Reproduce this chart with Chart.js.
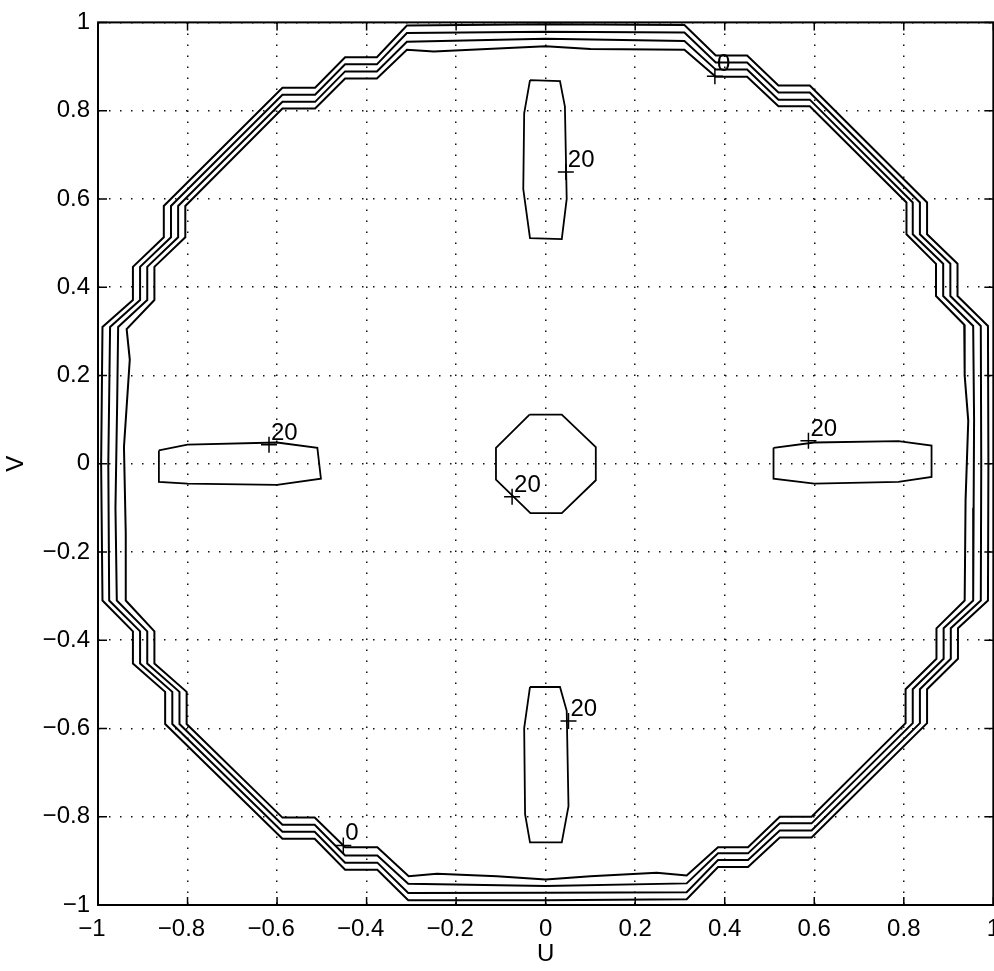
<!DOCTYPE html>
<html lang="en">
<head>
<meta charset="UTF-8">
<title>U-V contour plot</title>
<script src="https://cdn.jsdelivr.net/npm/chart.js"></script>
<style>
    html, body { margin: 0; padding: 0; background: #fff; overflow: hidden; }
    #wrap { width: 1010px; height: 971px; }
</style>
</head>
<body>
<div id="wrap"><canvas id="uv" width="1010" height="971"></canvas></div>
<script>
// axis ticks
const uTicks = [-1, -0.8, -0.6, -0.4, -0.2, 0, 0.2, 0.4, 0.6, 0.8, 1];
const vTicks = [-1, -0.8, -0.6, -0.4, -0.2, 0, 0.2, 0.4, 0.6, 0.8, 1];

// outer contour lines, outermost first, points as [U, V], clockwise from top
const contourA = [
    [0, 0.996], [0.31, 0.994], [0.38, 0.925], [0.45, 0.925], [0.52, 0.857], [0.59, 0.857],
    [0.852, 0.592], [0.852, 0.52], [0.92, 0.453], [0.92, 0.38], [0.988, 0.312],
    [0.989, 0],
    [0.988, -0.31], [0.921, -0.373], [0.921, -0.442], [0.852, -0.511], [0.852, -0.588],
    [0.594, -0.847], [0.523, -0.847], [0.452, -0.914], [0.385, -0.914], [0.315, -0.987],
    [0, -0.989],
    [-0.307, -0.989], [-0.376, -0.92], [-0.448, -0.92], [-0.516, -0.85], [-0.588, -0.85],
    [-0.85, -0.59], [-0.85, -0.517], [-0.922, -0.453], [-0.922, -0.38], [-0.99, -0.31],
    [-0.993, 0],
    [-0.99, 0.31], [-0.922, 0.371], [-0.922, 0.446], [-0.853, 0.513], [-0.853, 0.584],
    [-0.588, 0.852], [-0.515, 0.852], [-0.448, 0.921], [-0.377, 0.921], [-0.31, 0.993]
];
const contourB = [
    [0, 0.979], [0.31, 0.977], [0.38, 0.909], [0.45, 0.909], [0.52, 0.841], [0.59, 0.841],
    [0.836, 0.592], [0.836, 0.52], [0.904, 0.453], [0.904, 0.38], [0.972, 0.312],
    [0.973, 0],
    [0.972, -0.31], [0.905, -0.373], [0.905, -0.442], [0.836, -0.511], [0.836, -0.588],
    [0.594, -0.831], [0.523, -0.831], [0.452, -0.898], [0.385, -0.898], [0.315, -0.971],
    [0, -0.972],
    [-0.307, -0.973], [-0.376, -0.904], [-0.448, -0.904], [-0.516, -0.834], [-0.588, -0.834],
    [-0.834, -0.59], [-0.834, -0.517], [-0.906, -0.453], [-0.906, -0.38], [-0.975, -0.31],
    [-0.977, 0],
    [-0.973, 0.31], [-0.906, 0.371], [-0.906, 0.446], [-0.837, 0.513], [-0.837, 0.584],
    [-0.588, 0.836], [-0.515, 0.836], [-0.448, 0.905], [-0.377, 0.905], [-0.31, 0.976]
];
const contourC = [
    [0, 0.963], [0.31, 0.958], [0.38, 0.893], [0.45, 0.893], [0.52, 0.825], [0.59, 0.825],
    [0.82, 0.592], [0.82, 0.52], [0.888, 0.453], [0.888, 0.38], [0.955, 0.312],
    [0.957, 0.1], [0.956, -0.1],
    [0.955, -0.31], [0.889, -0.373], [0.889, -0.442], [0.82, -0.511], [0.82, -0.588],
    [0.594, -0.815], [0.523, -0.815], [0.452, -0.883], [0.385, -0.883], [0.315, -0.951],
    [0, -0.957],
    [-0.307, -0.952], [-0.376, -0.888], [-0.448, -0.888], [-0.516, -0.818], [-0.588, -0.818],
    [-0.818, -0.59], [-0.818, -0.517], [-0.89, -0.453], [-0.89, -0.38], [-0.958, -0.31],
    [-0.961, -0.1], [-0.957, 0.15],
    [-0.955, 0.31], [-0.89, 0.371], [-0.89, 0.446], [-0.821, 0.513], [-0.821, 0.584],
    [-0.588, 0.82], [-0.515, 0.82], [-0.448, 0.889], [-0.377, 0.889], [-0.31, 0.956]
];
const contourD = [
    [0, 0.946], [0.1, 0.94], [0.31, 0.938], [0.38, 0.877], [0.45, 0.877], [0.52, 0.81], [0.59, 0.81],
    [0.806, 0.592], [0.806, 0.52], [0.872, 0.453], [0.872, 0.38], [0.935, 0.315],
    [0.936, 0.2], [0.944, 0.097], [0.938, -0.082],
    [0.936, -0.31], [0.873, -0.373], [0.873, -0.442], [0.804, -0.511], [0.804, -0.588],
    [0.594, -0.8], [0.523, -0.8], [0.452, -0.869], [0.385, -0.869], [0.315, -0.933],
    [0.248, -0.927], [0.1, -0.935], [0, -0.942],
    [-0.109, -0.935], [-0.243, -0.929], [-0.306, -0.935],
    [-0.376, -0.869], [-0.448, -0.869], [-0.516, -0.802], [-0.588, -0.802],
    [-0.802, -0.59], [-0.802, -0.517], [-0.874, -0.453], [-0.874, -0.38], [-0.938, -0.31],
    [-0.938, -0.157], [-0.942, 0.038], [-0.929, 0.236], [-0.936, 0.305],
    [-0.874, 0.371], [-0.874, 0.446], [-0.805, 0.513], [-0.805, 0.584],
    [-0.588, 0.805], [-0.515, 0.805], [-0.448, 0.873], [-0.377, 0.873], [-0.31, 0.938],
    [-0.25, 0.934]
];

// inner closed contours
const centerOctagon = [
    [-0.036, 0.111], [0.036, 0.111], [0.112, 0.0375], [0.112, -0.0375],
    [0.036, -0.112], [-0.034, -0.112], [-0.111, -0.036], [-0.111, 0.036]
];
const barTop = [
    [-0.035, 0.869], [0.032, 0.867], [0.043, 0.809], [0.047, 0.6],
    [0.036, 0.509], [-0.035, 0.511], [-0.05, 0.622], [-0.048, 0.794]
];
const barBottom = [
    [-0.035, -0.506], [0.032, -0.506], [0.047, -0.56], [0.051, -0.776],
    [0.036, -0.858], [-0.035, -0.858], [-0.046, -0.794], [-0.048, -0.599]
];
const barLeft = [
    [-0.864, 0.03], [-0.8, 0.043], [-0.6, 0.048], [-0.51, 0.036],
    [-0.502, -0.034], [-0.6, -0.048], [-0.8, -0.045], [-0.864, -0.041]
];
const barRight = [
    [0.509, 0.036], [0.6, 0.048], [0.788, 0.051], [0.862, 0.041],
    [0.862, -0.03], [0.788, -0.041], [0.6, -0.045], [0.509, -0.034]
];

// contour labels
const labelPoints = [[0.378, 0.878], [-0.452, -0.865], [0.045, 0.661], [0.051, -0.583],
                     [-0.075, -0.075], [-0.618, 0.043], [0.587, 0.052]];
const labelTexts = ['0', '0', '20', '20', '20', '20', '20'];

const FONT = '"Liberation Sans", Arial, Helvetica, sans-serif';

function toXY(pts) {
    const out = pts.map(p => ({x: p[0], y: p[1]}));
    out.push({x: pts[0][0], y: pts[0][1]});
    return out;
}

function tickText(v) {
    const s = String(Math.round(v * 10) / 10);
    return s.replace('-', '\u2212');
}

function lineSet(pts, w) {
    return {
        data: toXY(pts),
        showLine: true,
        borderColor: '#000',
        borderWidth: w,
        pointRadius: 0,
        fill: false,
        tension: 0
    };
}

// frame, inward tick marks and contour label text
const framePlugin = {
    id: 'frame',
    afterDatasetsDraw(chart) {
        const {ctx, chartArea: a, scales: {x, y}} = chart;
        ctx.save();
        ctx.strokeStyle = '#000';
        ctx.lineWidth = 1.5;
        ctx.beginPath();
        uTicks.forEach(v => {
            const px = x.getPixelForValue(v);
            ctx.moveTo(px, a.bottom); ctx.lineTo(px, a.bottom - 8);
            ctx.moveTo(px, a.top); ctx.lineTo(px, a.top + 8);
        });
        vTicks.forEach(v => {
            const py = y.getPixelForValue(v);
            ctx.moveTo(a.left, py); ctx.lineTo(a.left + 9, py);
            ctx.moveTo(a.right, py); ctx.lineTo(a.right - 9, py);
        });
        ctx.stroke();
        ctx.lineWidth = 2;
        ctx.strokeRect(a.left, a.top, a.right - a.left, a.bottom - a.top);

        ctx.font = '24px ' + FONT;
        ctx.fillStyle = '#000';
        ctx.textAlign = 'left';
        ctx.textBaseline = 'alphabetic';
        labelPoints.forEach((p, i) => {
            ctx.fillText(labelTexts[i], x.getPixelForValue(p[0]) + 2, y.getPixelForValue(p[1]) - 5);
        });
        ctx.restore();
    }
};

const gridOpts = { color: '#111', lineWidth: 1.5, drawTicks: false };
const borderOpts = { display: false, dash: [1.5, 9.5] };

new Chart(document.getElementById('uv').getContext('2d'), {
    type: 'scatter',
    data: {
        datasets: [
            lineSet(contourA, 2),
            lineSet(contourB, 2),
            lineSet(contourC, 2),
            lineSet(contourD, 2),
            lineSet(centerOctagon, 1.8),
            lineSet(barTop, 1.8),
            lineSet(barBottom, 1.8),
            lineSet(barLeft, 1.8),
            lineSet(barRight, 1.8),
            {
                data: labelPoints.map(p => ({x: p[0], y: p[1]})),
                showLine: false,
                pointStyle: 'cross',
                pointRadius: 8,
                borderColor: '#000',
                borderWidth: 1.5
            }
        ]
    },
    options: {
        responsive: false,
        animation: false,
        layout: { padding: { top: 15, right: 14, left: 0, bottom: 0 } },
        plugins: {
            legend: { display: false },
            tooltip: { enabled: false }
        },
        scales: {
            x: {
                type: 'linear',
                min: -1,
                max: 1,
                afterBuildTicks: s => { s.ticks = uTicks.map(v => ({value: v})); },
                afterFit: s => { s.height = 66; },
                ticks: {
                    autoSkip: false,
                    maxRotation: 0,
                    padding: 10,
                    color: '#000',
                    font: { family: FONT, size: 24 },
                    callback: v => v < 0 ? tickText(v) + '\u2002' : tickText(v)
                },
                grid: gridOpts,
                border: borderOpts,
                title: {
                    display: true,
                    text: 'U',
                    color: '#000',
                    font: { family: FONT, size: 24 },
                    padding: { top: 0, bottom: 2 }
                }
            },
            y: {
                type: 'linear',
                min: -1,
                max: 1,
                afterBuildTicks: s => { s.ticks = vTicks.map(v => ({value: v})); },
                afterFit: s => { s.width = 98; },
                ticks: {
                    autoSkip: false,
                    padding: 8,
                    color: '#000',
                    font: { family: FONT, size: 24 },
                    callback: v => tickText(v)
                },
                grid: gridOpts,
                border: borderOpts,
                title: {
                    display: true,
                    text: 'V',
                    color: '#000',
                    font: { family: FONT, size: 24 },
                    padding: { top: 2, bottom: 0 }
                }
            }
        }
    },
    plugins: [framePlugin]
});
</script>
</body>
</html>
